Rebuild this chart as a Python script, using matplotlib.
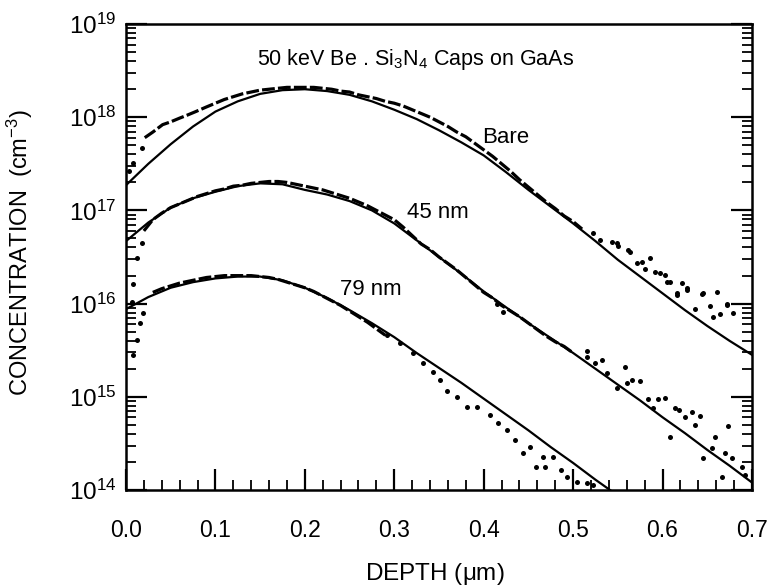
import numpy as np
import matplotlib
matplotlib.use("Agg")
import matplotlib.pyplot as plt
from matplotlib.ticker import FixedLocator, MultipleLocator, LogLocator, FuncFormatter, NullFormatter

plt.rcParams['font.family'] = ['Liberation Sans', 'DejaVu Sans']
plt.rcParams['mathtext.fontset'] = 'custom'
plt.rcParams['mathtext.rm'] = 'Liberation Sans'
plt.rcParams['mathtext.it'] = 'Liberation Sans:italic'
plt.rcParams['mathtext.bf'] = 'Liberation Sans:bold'

# ---------------- data (log10 of concentration, cm^-3) ----------------
fit_depth = [0.0, 0.025, 0.05, 0.075, 0.1, 0.125, 0.15, 0.175, 0.2, 0.225, 0.25, 0.275,
             0.3, 0.325, 0.35, 0.375, 0.4, 0.425, 0.45, 0.475, 0.5, 0.525, 0.55, 0.575,
             0.6, 0.625, 0.65, 0.675, 0.7]
fit_bare = [17.27, 17.50, 17.71, 17.90, 18.06, 18.17, 18.25, 18.29, 18.30, 18.28, 18.24, 18.17,
            18.08, 17.98, 17.86, 17.73, 17.59, 17.41, 17.22, 17.04, 16.86, 16.67, 16.47, 16.29,
            16.11, 15.93, 15.76, 15.60, 15.45]
fit_45 = [16.67, 16.87, 17.03, 17.13, 17.20, 17.26, 17.29, 17.28, 17.22, 17.17, 17.10, 17.00,
          16.86, 16.68, 16.50, 16.32, 16.13, 15.96, 15.79, 15.63, 15.47, 15.30, 15.13, 14.96,
          14.78, 14.61, 14.43, 14.26, 14.08]
fit_79_depth = [0.0, 0.025, 0.05, 0.075, 0.1, 0.125, 0.15, 0.175, 0.2, 0.225, 0.25, 0.275,
                0.3, 0.325, 0.35, 0.375, 0.4, 0.425, 0.45, 0.475, 0.5, 0.525, 0.55]
fit_79 = [15.94, 16.07, 16.17, 16.23, 16.27, 16.29, 16.29, 16.25, 16.17, 16.06, 15.93, 15.79,
          15.64, 15.47, 15.31, 15.15, 14.98, 14.81, 14.64, 14.46, 14.29, 14.11, 13.94]

# measured SIMS data -- dense (continuous) parts
bare_dense_x = [0.021, 0.03, 0.041, 0.05, 0.06, 0.068, 0.078, 0.09, 0.1, 0.11, 0.12, 0.13, 0.14,
                0.15, 0.16, 0.17, 0.18, 0.19, 0.2, 0.21, 0.22, 0.23, 0.24, 0.25, 0.26, 0.27,
                0.28, 0.29, 0.3, 0.31, 0.32, 0.33, 0.34, 0.35, 0.36, 0.37, 0.38, 0.39, 0.4,
                0.41, 0.42, 0.43, 0.44, 0.45, 0.46, 0.47, 0.48, 0.49, 0.5, 0.51]
bare_dense_y = [17.78, 17.84, 17.92, 17.95, 17.99, 18.02, 18.06, 18.11, 18.15, 18.19, 18.22, 18.25,
                18.27, 18.29, 18.30, 18.31, 18.32, 18.32, 18.32, 18.32, 18.31, 18.30, 18.28,
                18.27, 18.24, 18.22, 18.20, 18.17, 18.15, 18.12, 18.08, 18.04, 18.00, 17.95,
                17.90, 17.84, 17.79, 17.72, 17.65, 17.58, 17.50, 17.42, 17.33, 17.25, 17.17,
                17.09, 17.02, 16.94, 16.88, 16.80]
bare_dots_x = [0.003, 0.008, 0.018, 0.522, 0.53, 0.543, 0.549, 0.55, 0.561, 0.564, 0.571, 0.577,
               0.58, 0.586, 0.592, 0.597, 0.603, 0.605, 0.608, 0.616, 0.616, 0.622, 0.627,
               0.627, 0.636, 0.644, 0.645, 0.653, 0.656, 0.661, 0.664, 0.672, 0.672, 0.679]
bare_dots_y = [17.42, 17.51, 17.67, 16.76, 16.68, 16.66, 16.65, 16.62, 16.58, 16.55, 16.44, 16.45,
               16.37, 16.49, 16.34, 16.33, 16.31, 16.23, 16.23, 16.09, 16.11, 16.22, 16.15,
               16.17, 15.94, 16.10, 16.11, 15.97, 15.86, 16.12, 15.89, 16.00, 15.98, 15.90]

nm45_dense_x = [0.02, 0.03, 0.04, 0.05, 0.06, 0.07, 0.08, 0.09, 0.1, 0.11, 0.12, 0.13, 0.14, 0.15,
                0.16, 0.17, 0.18, 0.19, 0.2, 0.21, 0.22, 0.23, 0.24, 0.25, 0.26, 0.27, 0.28,
                0.29, 0.3, 0.31, 0.32, 0.33, 0.34, 0.35, 0.36, 0.37, 0.38, 0.39, 0.4, 0.41,
                0.42, 0.43, 0.44, 0.45, 0.46, 0.47, 0.48, 0.49, 0.5]
nm45_dense_y = [16.78, 16.90, 16.97, 17.03, 17.07, 17.11, 17.15, 17.18, 17.21, 17.23, 17.26, 17.27,
                17.29, 17.30, 17.31, 17.31, 17.30, 17.28, 17.26, 17.24, 17.22, 17.19, 17.16,
                17.13, 17.09, 17.05, 17.00, 16.95, 16.90, 16.82, 16.73, 16.64, 16.58, 16.50,
                16.43, 16.36, 16.28, 16.20, 16.12, 16.06, 15.98, 15.92, 15.86, 15.79, 15.72,
                15.65, 15.59, 15.54, 15.47]
nm45_dots_x = [0.008, 0.012, 0.018, 0.415, 0.422, 0.515, 0.515, 0.524, 0.532, 0.538, 0.549, 0.558,
               0.56, 0.566, 0.575, 0.584, 0.595, 0.603, 0.589, 0.614, 0.618, 0.625, 0.633,
               0.642, 0.636, 0.608, 0.659, 0.673, 0.655, 0.645, 0.67, 0.678, 0.689, 0.666, 0.692]
nm45_dots_y = [16.21, 16.49, 16.65, 16.00, 15.91, 15.49, 15.43, 15.36, 15.40, 15.26, 15.09, 15.32,
               15.15, 15.18, 15.17, 14.98, 14.98, 14.99, 14.88, 14.88, 14.86, 14.78, 14.84,
               14.79, 14.70, 14.57, 14.57, 14.69, 14.45, 14.34, 14.40, 14.34, 14.25, 14.14, 14.16]

nm79_dense_x = [0.03, 0.04, 0.05, 0.06, 0.07, 0.08, 0.09, 0.1, 0.11, 0.12, 0.13, 0.14, 0.15, 0.16,
                0.17, 0.18, 0.19, 0.2, 0.21, 0.22, 0.23, 0.24, 0.25, 0.26, 0.27, 0.28, 0.29]
nm79_dense_y = [16.12, 16.16, 16.19, 16.22, 16.24, 16.26, 16.28, 16.29, 16.30, 16.30, 16.30, 16.30,
                16.29, 16.28, 16.26, 16.23, 16.20, 16.17, 16.13, 16.08, 16.03, 15.98, 15.92,
                15.86, 15.80, 15.73, 15.66]
nm79_dots_x = [0.007, 0.019, 0.016, 0.012, 0.008, 0.292, 0.306, 0.321, 0.332, 0.343, 0.351, 0.359,
               0.37, 0.381, 0.392, 0.407, 0.416, 0.426, 0.435, 0.444, 0.452, 0.459, 0.466,
               0.469, 0.477, 0.487, 0.493, 0.504, 0.515, 0.522]
nm79_dots_y = [16.02, 15.90, 15.79, 15.61, 15.45, 15.66, 15.58, 15.47, 15.36, 15.27, 15.18, 15.06,
               15.00, 14.89, 14.89, 14.80, 14.72, 14.64, 14.54, 14.40, 14.46, 14.25, 14.35,
               14.25, 14.35, 14.21, 14.14, 14.09, 14.07, 14.05]

x_ticks = [0.0, 0.1, 0.2, 0.3, 0.4, 0.5, 0.6, 0.7]
y_ticks = [1e14, 1e15, 1e16, 1e17, 1e18, 1e19]

# ---------------- figure ----------------
fig = plt.figure(figsize=(7.7, 5.88), dpi=100)
ax = fig.add_axes([0.1636, 0.1667, 0.8130, 0.7925])

def p(v):
    return 10.0 ** np.asarray(v)

ax.plot(fit_depth, p(fit_bare), color='black', lw=1.6, zorder=3)
ax.plot(fit_depth, p(fit_45), color='black', lw=1.6, zorder=3)
ax.plot(fit_79_depth, p(fit_79), color='black', lw=1.6, zorder=3)

for dx, dy in [(bare_dense_x, bare_dense_y), (nm45_dense_x, nm45_dense_y), (nm79_dense_x, nm79_dense_y)]:
    ax.plot(dx, p(dy), color='black', lw=2.3, linestyle=(0, (4, 1.0)), zorder=4)
for sx, sy in [(bare_dots_x, bare_dots_y), (nm45_dots_x, nm45_dots_y), (nm79_dots_x, nm79_dots_y)]:
    ax.plot(sx, p(sy), linestyle='none', marker='o', ms=3.6, color='black', mec='none', zorder=4)

ax.set_yscale('log')
ax.set_xlim(0.0, 0.7)
ax.set_ylim(1e14, 1e19)

ax.xaxis.set_major_locator(FixedLocator(x_ticks))
ax.xaxis.set_minor_locator(MultipleLocator(0.02))
ax.xaxis.set_major_formatter(FuncFormatter(lambda v, pos: '%.1f' % v))
ax.yaxis.set_major_locator(FixedLocator(y_ticks))
ax.yaxis.set_minor_locator(LogLocator(base=10, subs=np.arange(2, 10)))
ax.yaxis.set_minor_formatter(NullFormatter())
ax.yaxis.set_major_formatter(FuncFormatter(
    lambda v, pos: r'$\mathregular{10^{%d}}$' % int(round(np.log10(v)))))

ax.tick_params(axis='both', which='major', direction='in', length=15, width=1.6, colors='black')
ax.tick_params(axis='both', which='minor', direction='in', length=7, width=1.3)
ax.tick_params(axis='y', which='both', left=True, right=True)
ax.tick_params(axis='x', which='both', top=False, bottom=True)
ax.tick_params(axis='x', which='major', labelsize=16.5, pad=21)
ax.tick_params(axis='y', which='major', labelsize=17.5, pad=7)

for s in ax.spines.values():
    s.set_linewidth(1.8)

ax.set_xlabel(r'DEPTH ($\mathregular{\mu}$m)', fontsize=17.5)
ax.xaxis.set_label_coords(0.494, -0.153)
ax.set_ylabel(r'CONCENTRATION  (cm$^{\mathregular{-3}}$)', fontsize=17)
ax.yaxis.set_label_coords(-0.145, 0.51)

ax.text(0.209, 0.912, r'50 keV Be . Si$_{\mathregular{3}}$N$_{\mathregular{4}}$ Caps on GaAs',
        transform=ax.transAxes, fontsize=15.5, ha='left', va='baseline')
ax.text(0.569, 0.745, 'Bare', transform=ax.transAxes, fontsize=16, ha='left', va='baseline')
ax.text(0.449, 0.584, '45 nm', transform=ax.transAxes, fontsize=16, ha='left', va='baseline')
ax.text(0.342, 0.418, '79 nm', transform=ax.transAxes, fontsize=16, ha='left', va='baseline')

fig.savefig('out.png', dpi=100)
